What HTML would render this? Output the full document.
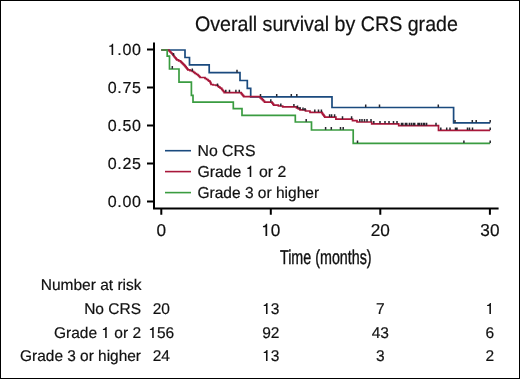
<!DOCTYPE html>
<html><head><meta charset="utf-8"><style>
html,body{margin:0;padding:0;background:#fff;}
body{width:520px;height:379px;overflow:hidden;}
svg{display:block;font-family:"Liberation Sans",sans-serif;will-change:transform;}
text{stroke:#111;stroke-width:0.2px;}
.h1{fill-opacity:0;stroke-opacity:0;}
</style></head><body>
<svg width="520" height="379" viewBox="0 0 520 379" text-rendering="geometricPrecision">
<rect x="0.5" y="0.5" width="519" height="378" fill="#fff" stroke="#000" stroke-width="1"/>
<text x="0" y="0" font-size="21" text-anchor="middle" fill="#111" transform="translate(326.4,30.7) scale(0.935,1)">Overall survival by CRS grade</text>
<g stroke="#000" stroke-width="2" fill="none" stroke-linecap="butt">
<path d="M154,42.6V208.5H498.6"/>
<path d="M147,49.5H154M147,87.5H154M147,125.5H154M147,163.5H154M147,201.5H154"/>
<path d="M161.3,208.5V214.8M270.8,208.5V214.8M380.3,208.5V214.8M489.9,208.5V214.8"/>
</g>
<g font-size="16" text-anchor="end" fill="#111" letter-spacing="0.7">
<text x="141.6" y="54.7"><tspan class="h1">1</tspan>.00</text>
<text x="141.6" y="92.7">0.75</text>
<text x="141.6" y="130.7">0.50</text>
<text x="141.6" y="168.7">0.25</text>
<text x="141.6" y="206.7">0.00</text>
</g>
<g font-size="17.2" text-anchor="middle" fill="#111">
<text x="161.3" y="235.5">0</text>
<text x="270.8" y="235.5"><tspan class="h1">1</tspan>0</text>
<text x="380.3" y="235.5">20</text>
<text x="489.9" y="235.5">30</text>
</g>
<text x="0" y="0" font-size="20" text-anchor="middle" fill="#111" style="stroke-width:0.4px" transform="translate(325.8,263.8) scale(0.715,1)">Time (months)</text>
<g fill="none" stroke-width="1.7" stroke-linejoin="miter" stroke-linecap="butt">
<path d="M161.3,50.0H185.0V57.5H189.5V64.8H209.2V72.7H240.0V80.5H247.3V88.4H250.7V96.8H332.0V107.5H453.6V122.8H490.2" stroke="#1a4a7e" /><path d="M161.3,50.0H168.0H169.0V51.0H170.0V52.0H171.0V53.0H172.0V54.0H172.8V55.0H173.6V56.0H174.3V57.0H175.1V57.9H175.9V58.9H176.7V59.9H178.6V60.8H180.6V61.8H181.6V62.8H182.6V63.8H183.6V64.8H184.6V65.8H185.4V66.8H186.2V67.8H187.0V68.8H187.8V69.8H190.0V70.7H192.4V71.5H193.7V72.5H195.0V73.5H196.5V74.5H198.0V75.5H199.0V76.5H200.0V77.5H203.0H205.0V78.5H206.5V79.5H208.0V80.5H209.0V81.2H210.0V82.0H210.5V83.2H211.0V84.5H213.0V85.0H216.0V85.5H218.0V86.5H219.0V87.2H220.0V88.0H221.0V88.4H221.8V89.5H222.6V90.5H223.4V91.5H224.2V92.6H240.3H241.2V93.6H242.0V94.7H242.8V95.7H243.7V96.7H257.4H260.2V97.8H261.3V98.9H262.4V99.9H263.4V101.0H264.5V102.1H271.4H272.1V103.1H272.9V104.1H273.6V105.1H278.4V106.0H282.7V106.9H294.8H296.5V107.9H298.3V108.9H300.0V109.9H305.5V111.0H310.0V112.3H321.4H322.1V113.3H322.7V114.3H323.4V115.2H324.0V116.2H324.7V117.2H335.9V119.2H352.5V120.7H357.0V122.0H371.7V123.8H398.7V125.7H438.5V130.4H490.2" stroke="#a8173a" /><path d="M161.3,50.0H167.2V56.1H169.5V69.0H179.0V82.2H191.4V95.4H193.0V102.1H233.3V108.6H242.0V115.3H295.3V122.0H311.5V130.0H353.2V143.3H490.2" stroke="#3a9c40" />
</g>
<path d="M237.0,72.4v-2.6M260.5,96.5v-2.6M276.7,96.5v-2.6M291.3,96.5v-2.6M296.8,96.5v-2.6M365.7,107.2v-2.6M379.5,107.2v-2.6M438.3,107.2v-2.6M455.0,122.5v-2.6M472.3,122.5v-2.6M476.2,122.5v-2.6M490.2,122.5v-2.6M172.3,68.7v-2.6M306.2,121.7v-2.6M325.6,129.7v-2.6M331.3,129.7v-2.6M340.5,129.7v-2.6M343.2,129.7v-2.6M357.5,143.0v-2.6M463.9,143.0v-2.6M490.2,143.0v-2.6M173.5,55.6v-2.6M192.3,71.2v-2.6M217.5,86.0v-2.6M225.8,92.3v-2.6M229.5,92.3v-2.6M235.9,92.3v-2.6M239.3,92.3v-2.6M270.8,101.8v-2.6M280.8,106.2v-2.6M293.9,106.6v-2.6M297.5,108.2v-2.6M300.0,109.6v-2.6M303.0,110.2v-2.6M305.0,110.6v-2.6M314.8,112.0v-2.6M318.5,112.0v-2.6M321.4,112.0v-2.6M329.6,116.9v-2.6M331.6,116.9v-2.6M334.6,116.9v-2.6M342.5,118.9v-2.6M351.6,118.9v-2.6M359.8,121.7v-2.6M362.0,121.7v-2.6M364.5,121.7v-2.6M367.0,121.7v-2.6M371.0,121.7v-2.6M373.8,123.5v-2.6M380.0,123.5v-2.6M385.0,123.5v-2.6M389.0,123.5v-2.6M393.5,123.5v-2.6M397.0,123.5v-2.6M401.5,125.4v-2.6M402.8,125.4v-2.6M405.4,125.4v-2.6M406.8,125.4v-2.6M409.4,125.4v-2.6M411.4,125.4v-2.6M413.4,125.4v-2.6M414.7,125.4v-2.6M418.0,125.4v-2.6M419.3,125.4v-2.6M421.3,125.4v-2.6M423.3,125.4v-2.6M424.6,125.4v-2.6M426.6,125.4v-2.6M436.0,125.4v-2.6M440.8,130.1v-2.6M446.7,130.1v-2.6M450.0,130.1v-2.6M455.5,130.1v-2.6M457.0,130.1v-2.6M467.5,130.1v-2.6M469.5,130.1v-2.6M472.5,130.1v-2.6M490.2,130.1v-2.6" stroke="#26262e" stroke-width="1.5" fill="none"/>
<g stroke-width="1.6">
<line x1="165" y1="150.7" x2="191" y2="150.7" stroke="#1a4a7e"/>
<line x1="165" y1="171.6" x2="191" y2="171.6" stroke="#a8173a"/>
<line x1="165" y1="192.6" x2="191" y2="192.6" stroke="#3a9c40"/>
</g>
<g font-size="15.8" fill="#111">
<text x="197.5" y="156.3">No CRS</text>
<text x="197.5" y="177.2">Grade <tspan class="h1">1</tspan> or 2</text>
<text x="0" y="0" transform="translate(197.5,198) scale(0.982,1)">Grade 3 or higher</text>
</g>
<g font-size="15.5" text-anchor="end" fill="#111">
<text x="141.5" y="289.5">Number at risk</text>
<text x="141" y="313.7">No CRS</text>
<text x="141" y="337.5">Grade <tspan class="h1">1</tspan> or 2</text>
<text x="0" y="0" transform="translate(141,361.3) scale(0.995,1)">Grade 3 or higher</text>
</g>
<g font-size="15.5" text-anchor="middle" fill="#111">
<text x="161.3" y="313.7">20</text><text x="270.8" y="313.7"><tspan class="h1">1</tspan>3</text><text x="380.3" y="313.7">7</text><text x="489.9" y="313.7"><tspan class="h1">1</tspan></text>
<text x="161.3" y="337.5"><tspan class="h1">1</tspan>56</text><text x="270.8" y="337.5">92</text><text x="380.3" y="337.5">43</text><text x="489.9" y="337.5">6</text>
<text x="161.3" y="361.3">24</text><text x="270.8" y="361.3"><tspan class="h1">1</tspan>3</text><text x="380.3" y="361.3">3</text><text x="489.9" y="361.3">2</text>
</g>
<g fill="#111" stroke="#111" stroke-width="0.0"><path transform="translate(107.65,55.00) scale(0.01600,-0.01600)" d="M346,0V709H276C262,642 215,590 100,580V510H246V0Z"/><path transform="translate(261.24,236.00) scale(0.01720,-0.01720)" d="M346,0V709H276C262,642 215,590 100,580V510H246V0Z"/><path transform="translate(245.80,177.00) scale(0.01580,-0.01580)" d="M346,0V709H276C262,642 215,590 100,580V510H246V0Z"/><path transform="translate(101.36,338.00) scale(0.01550,-0.01550)" d="M346,0V709H276C262,642 215,590 100,580V510H246V0Z"/><path transform="translate(262.17,314.00) scale(0.01550,-0.01550)" d="M346,0V709H276C262,642 215,590 100,580V510H246V0Z"/><path transform="translate(485.59,314.00) scale(0.01550,-0.01550)" d="M346,0V709H276C262,642 215,590 100,580V510H246V0Z"/><path transform="translate(148.36,338.00) scale(0.01550,-0.01550)" d="M346,0V709H276C262,642 215,590 100,580V510H246V0Z"/><path transform="translate(262.17,361.00) scale(0.01550,-0.01550)" d="M346,0V709H276C262,642 215,590 100,580V510H246V0Z"/></g>
</svg>
</body></html>
